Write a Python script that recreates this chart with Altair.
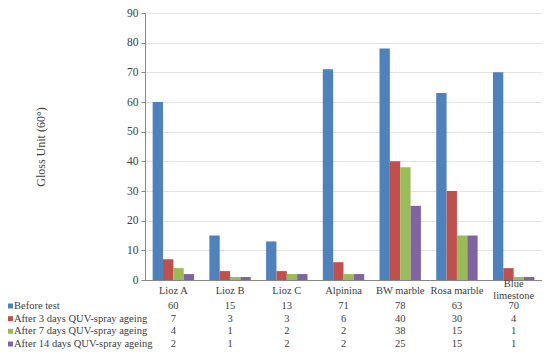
import altair as alt
import pandas as pd

categories = ["Lioz A", "Lioz B", "Lioz C", "Alpinina", "BW marble", "Rosa marble", "Blue limestone"]
cat_labels = ["Lioz A", "Lioz B", "Lioz C", "Alpinina", "BW marble", "Rosa marble", "Blue\nlimestone"]
series = ["Before test", "After 3 days QUV-spray ageing",
          "After 7 days QUV-spray ageing", "After 14 days QUV-spray ageing"]
before = [60, 15, 13, 71, 78, 63, 70]
after3 = [7, 3, 3, 6, 40, 30, 4]
after7 = [4, 1, 2, 2, 38, 15, 1]
after14 = [2, 1, 2, 2, 25, 15, 1]
colors = ["#4F81BD", "#C0504D", "#9BBB59", "#8064A2"]

values = [before, after3, after7, after14]
rows = []
for si, s in enumerate(series):
    for ci, c in enumerate(categories):
        rows.append({"category": c, "label": cat_labels[ci], "series": s, "value": values[si][ci]})
df = pd.DataFrame(rows)

FONT = "Liberation Serif"
TXT = "#404040"
PH = 267          # plot height
TOP = 5           # top padding
# row centres relative to the plot's top edge
cat_y = PH + 11
row_y = [PH + 26, PH + 38.7, PH + 51.3, PH + 64]

xenc = alt.X("category:N", sort=categories,
             scale=alt.Scale(paddingInner=0, paddingOuter=0),
             axis=alt.Axis(labels=False, ticks=False, title=None, domainColor="#868686", grid=False))

base = alt.Chart(df)

bars = base.mark_bar().encode(
    x=xenc,
    xOffset=alt.XOffset("series:N", sort=series, scale=alt.Scale(paddingInner=0, paddingOuter=0.74)),
    y=alt.Y("value:Q", scale=alt.Scale(domain=[0, 90], nice=False),
            axis=alt.Axis(values=list(range(0, 91, 10)), title="Gloss Unit (60°)",
                          titleFont=FONT, titleFontSize=12, titleFontWeight="normal", titleColor=TXT,
                          titleAngle=-90, titleX=-105, titleY=PH / 2, titleAlign="center", titleBaseline="middle",
                          labelFont=FONT, labelFontSize=11.5, labelColor=TXT, labelPadding=3,
                          tickSize=4, tickColor="#868686", domainColor="#868686",
                          gridColor="#E3E3E3", gridWidth=1)),
    color=alt.Color("series:N", scale=alt.Scale(domain=series, range=colors), legend=None),
)

first_series = base.transform_filter(alt.datum.series == series[0])
cat_single = first_series.transform_filter("indexof(datum.label, '\\n') < 0").mark_text(
    font=FONT, fontSize=10.5, color=TXT, baseline="middle"
).encode(x=xenc, y=alt.value(cat_y), text="label:N")
cat_multi = first_series.transform_filter("indexof(datum.label, '\\n') >= 0").mark_text(
    font=FONT, fontSize=10.5, color=TXT, baseline="middle", lineBreak="\n", lineHeight=11.5
).encode(x=xenc, y=alt.value(cat_y - 7), text="label:N")

layers = [bars, cat_single, cat_multi]
for si, s in enumerate(series):
    layers.append(
        base.transform_filter(alt.datum.series == s).mark_text(
            font=FONT, fontSize=10.5, color=TXT, baseline="middle"
        ).encode(x=xenc, y=alt.value(row_y[si]), text="value:Q")
    )
    first = base.transform_filter((alt.datum.series == s) & (alt.datum.category == categories[0]))
    layers.append(
        first.mark_square(size=25, opacity=1, color=colors[si])
        .encode(x=alt.value(-134.5), y=alt.value(row_y[si]))
    )
    layers.append(
        first.mark_text(font=FONT, fontSize=10.5, color=TXT, align="left", baseline="middle")
        .encode(x=alt.value(-131), y=alt.value(row_y[si]), text="series:N")
    )

chart = alt.layer(*layers).properties(
    width=397, height=PH,
    autosize=alt.AutoSizeParams(type="none"),
    padding={"left": 137, "top": TOP, "right": 0, "bottom": 342 - TOP - PH},
    background="white",
).configure_view(stroke=None)

chart.save("out.html", embed_options={"renderer": "svg", "actions": False})
